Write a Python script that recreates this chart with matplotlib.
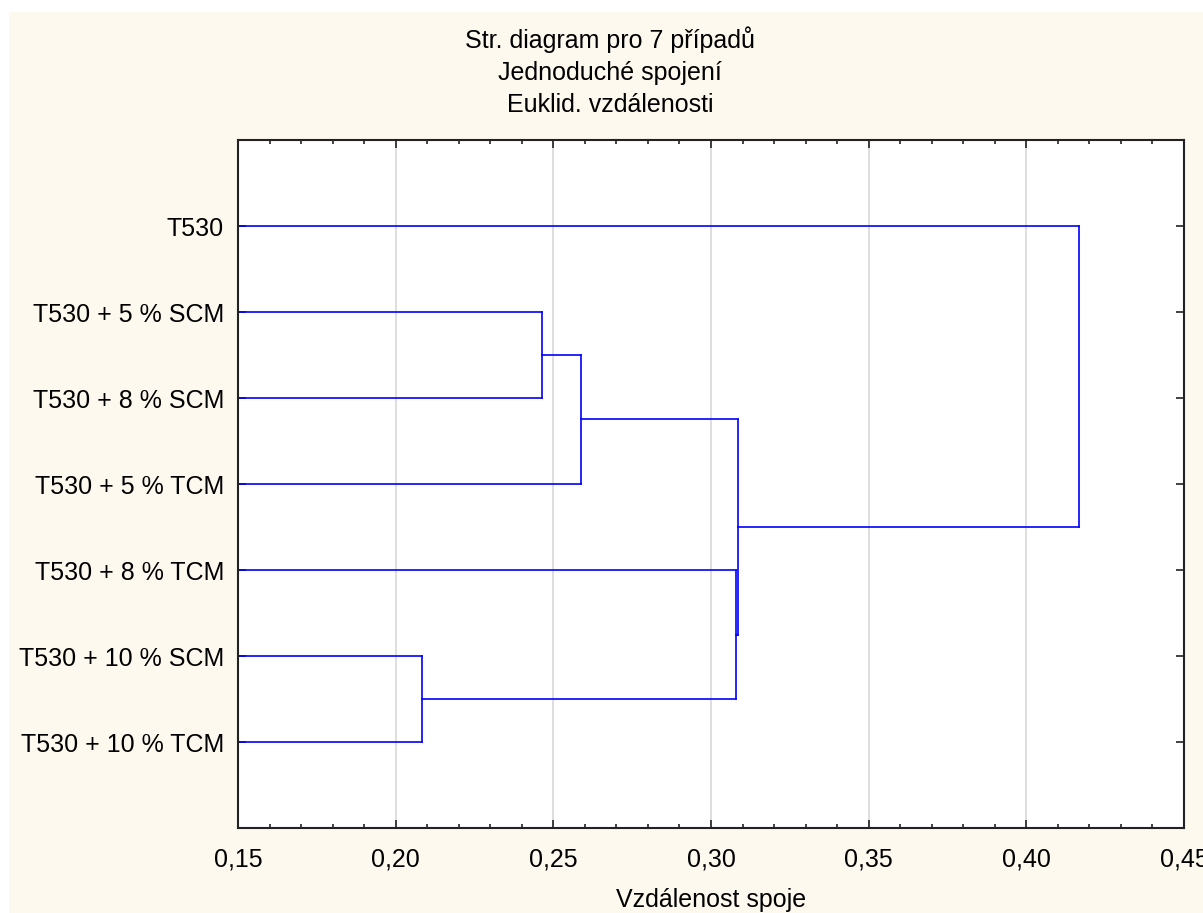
import matplotlib.pyplot as plt
import matplotlib.patches as patches
from matplotlib.ticker import MultipleLocator

# Data
labels = ["T530", "T530 + 5 % SCM", "T530 + 8 % SCM", "T530 + 5 % TCM",
          "T530 + 8 % TCM", "T530 + 10 % SCM", "T530 + 10 % TCM"]
# linkage: (cluster a, cluster b, distance), new clusters numbered from 7
merge_a = [5, 1, 8, 4, 9, 0]
merge_b = [6, 2, 3, 7, 10, 11]
merge_h = [0.2083, 0.2463, 0.2587, 0.3078, 0.3087, 0.4167]

xticks = [0.15, 0.20, 0.25, 0.30, 0.35, 0.40, 0.45]
xtick_labels = ["0,15", "0,20", "0,25", "0,30", "0,35", "0,40", "0,45"]

plt.rcParams['font.family'] = ['Liberation Sans', 'DejaVu Sans']

cream = "#fef9ef"
blue = "#0000ff"
fs = 18

fig = plt.figure(figsize=(12.03, 9.13), dpi=100, facecolor="white")
fig.patches.append(patches.Rectangle((9 / 1203, 0), 1, (913 - 12) / 913,
                                     transform=fig.transFigure,
                                     facecolor=cream, edgecolor="none", zorder=-10))

ax = fig.add_axes([238 / 1203, 85 / 913, (1184 - 238) / 1203, (828 - 140) / 913])
ax.set_facecolor("white")

# Positions of nodes
pos_y = {i: i + 1 for i in range(len(labels))}
pos_h = {i: 0.0 for i in range(len(labels))}
for k, (a, b, h) in enumerate(zip(merge_a, merge_b, merge_h)):
    node = len(labels) + k
    ya, yb = pos_y[a], pos_y[b]
    ax.plot([pos_h[a], h], [ya, ya], color=blue, lw=1.2)
    ax.plot([pos_h[b], h], [yb, yb], color=blue, lw=1.2)
    ax.plot([h, h], [ya, yb], color=blue, lw=1.2)
    pos_y[node] = (ya + yb) / 2
    pos_h[node] = h

ax.set_xlim(0.15, 0.45)
ax.set_ylim(8, 0)
ax.set_xticks(xticks)
ax.set_xticklabels(xtick_labels, fontsize=fs)
ax.xaxis.set_minor_locator(MultipleLocator(0.01))
ax.set_yticks(range(1, len(labels) + 1))
ax.set_yticklabels(labels, fontsize=fs)

ax.tick_params(axis="both", which="both", direction="in", top=True, right=True,
               color="#222222", width=1.2)
ax.tick_params(axis="both", which="major", length=6, pad=10)
ax.tick_params(axis="x", which="minor", length=3)
ax.tick_params(axis="x", which="major", pad=14)

for xt in xticks[1:-1]:
    ax.axvline(xt, color="#d8d8d8", lw=1.2, zorder=0)

for s in ax.spines.values():
    s.set_color("#222222")
    s.set_linewidth(1.5)

ax.set_xlabel("Vzdálenost spoje", fontsize=fs, labelpad=12)

fig.text(610 / 1203, 1 - 40 / 913, "Str. diagram pro 7 případů", fontsize=fs,
         ha="center", va="center")
fig.text(610 / 1203, 1 - 73 / 913, "Jednoduché spojení", fontsize=fs,
         ha="center", va="center")
fig.text(610 / 1203, 1 - 105 / 913, "Euklid. vzdálenosti", fontsize=fs,
         ha="center", va="center")

fig.savefig("out.png", dpi=100, facecolor=fig.get_facecolor())
